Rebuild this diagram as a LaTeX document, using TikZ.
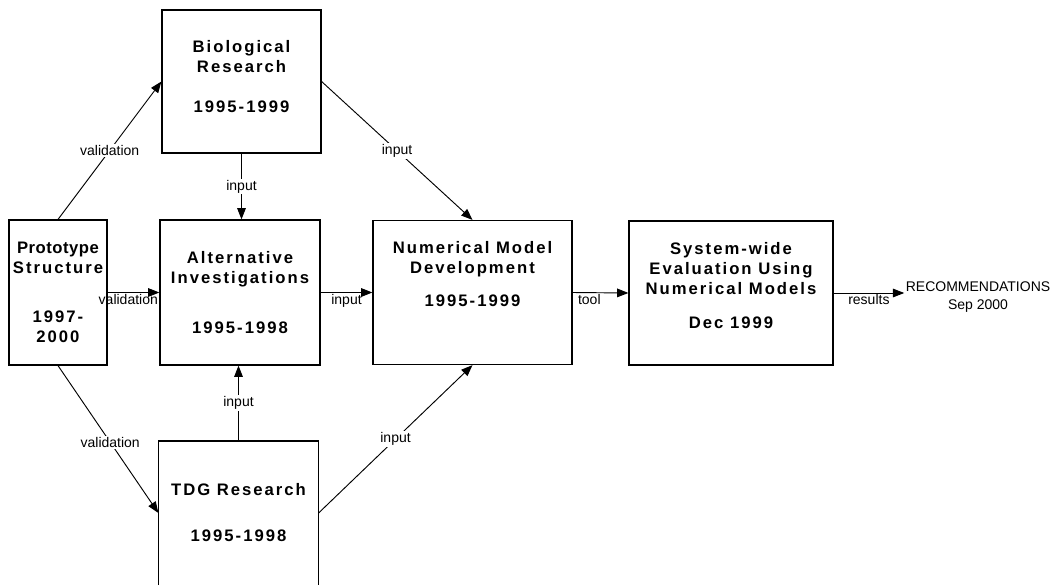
\documentclass[tikz,border=0pt]{standalone}
\usepackage{fontspec}
\setmainfont{Liberation Sans}
\newfontfamily\boxfont[LetterSpace=12]{Liberation Sans}
\usetikzlibrary{arrows.meta, positioning}

\begin{document}
\begin{tikzpicture}[x=0.75pt, y=-0.75pt,
box/.style={draw, line width=0.9pt, inner sep=0pt},
title/.style={align=center, inner sep=0pt, font=\boxfont\bfseries\fontsize{12.5}{15}\selectfont},
flow/.style={line width=0.7pt, -{Triangle[length=8.5pt, width=6.5pt]}},
lbl/.style={font=\fontsize{10.5}{12}\selectfont, inner sep=1pt}]
\useasboundingbox (0,0) rectangle (1062,585);
\node [box, minimum width=73.5pt, minimum height=108.75pt] (proto) at (58,292.5) {};
\node [title, below=16.5pt of proto.north] (protoText) {\addfontfeature{LetterSpace=3}Prototype\\Structure\\[22pt]1997-\\2000};
\node [box, minimum width=119.25pt, minimum height=107.25pt] (bio) at (241.5,81.5) {};
\node [title, below=23pt of bio.north] (bioText) {Biological\\Research\\[15pt]1995-1999};
\node [box, minimum width=120pt, minimum height=108.75pt] (alt) at (240,292.5) {};
\node [title, below=24pt of alt.north] (altText) {Alternative\\Investigations\\[22pt]1995-1998};
\node [box, minimum width=149.25pt, minimum height=108pt] (num) at (472.5,292.5) {};
\node [title, below=16pt of num.north] (numText) {Numerical Model\\Development\\[10pt]1995-1999};
\node [box, minimum width=153pt, minimum height=108pt] (sys) at (731,293) {};
\node [title, below=16pt of sys.north] (sysText) {System-wide\\Evaluation Using\\Numerical Models\\[11pt]Dec 1999};
\node [box, draw=none, minimum width=119.25pt, minimum height=107.25pt] (tdg) at (238.5,513) {};
\draw [line width=0.9pt] (tdg.south west) |- (tdg.north east) -- (tdg.south east);
\node [title, below=31.5pt of tdg.north] (tdgText) {TDG Research\\[20pt]1995-1998};
\node [lbl, align=center, font=\fontsize{10.5}{14}\selectfont] (rec) at (978,297) {RECOMMENDATIONS\\Sep 2000};

\draw [flow] (proto.north) -- (bio.west) node [lbl, fill=white, midway] (valBio) {validation};
\draw [flow] (proto.east) -- (alt.west) node [lbl, below, pos=.4] (valAlt) {validation};
\draw [flow] (proto.south) -- (tdg.west) node [lbl, fill=white, pos=.52] (valTdg) {validation};
\draw [flow] (bio.south) -- (bio.south|-alt.north) node [lbl, fill=white, midway] (inBioAlt) {input};
\draw [flow] (tdg.north) -- (tdg.north|-alt.south) node [lbl, fill=white, midway] (inTdgAlt) {input};
\draw [flow] (bio.east) -- (num.north) node [lbl, fill=white, midway] (inBioNum) {input};
\draw [flow] (alt.east) -- (num.west) node [lbl, below, midway] (inAltNum) {input};
\draw [flow] (tdg.east) -- (num.south) node [lbl, fill=white, midway] (inTdgNum) {input};
\draw [flow] (num.east) -- (sys.west) node [lbl, below, pos=.3] (toolLbl) {tool};
\draw [flow] (sys.east) -- (sys.east-|rec.west) node [lbl, below, midway] (resLbl) {results};
\end{tikzpicture}
\end{document}
